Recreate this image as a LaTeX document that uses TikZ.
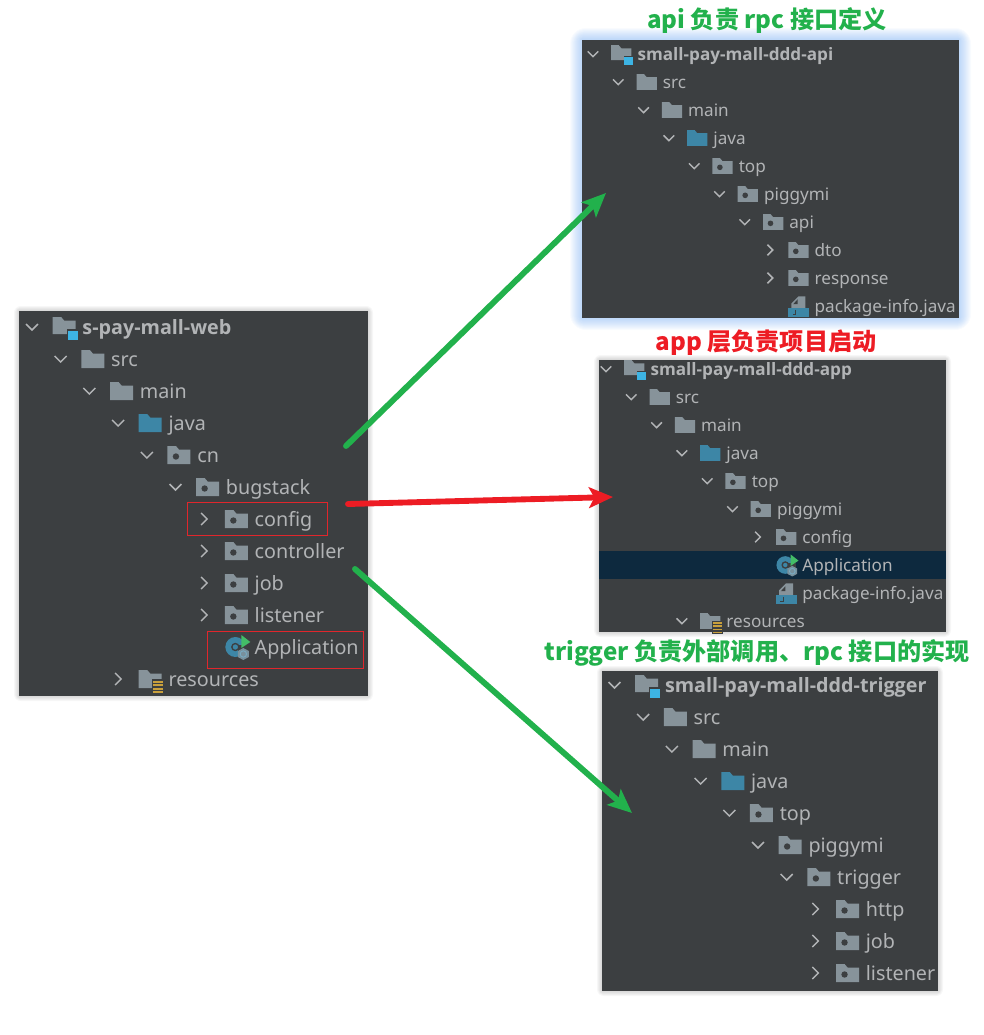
\documentclass[tikz,border=0pt]{standalone}
\usepackage{fontspec}
\setmainfont{Noto Sans}
\newfontfamily\rootfont{Open Sans}
\newfontfamily\cjk{Noto Sans CJK SC}
\usepackage{tikz}
\usetikzlibrary{arrows.meta,positioning}
\usepackage{xcolor}
\definecolor{panelbg}{HTML}{3C3F41}
\definecolor{rowgray}{HTML}{B2B4B6}
\definecolor{foldergray}{HTML}{87939A}
\definecolor{javablue}{HTML}{3D86A6}
\definecolor{modblue}{HTML}{3DB4E4}
\definecolor{resyellow}{HTML}{C9A03C}
\definecolor{runbar}{HTML}{0D293E}
\definecolor{flowgreen}{HTML}{22B14C}
\definecolor{flowred}{HTML}{ED1C24}
\definecolor{markred}{HTML}{E0262C}
\definecolor{glowblue}{HTML}{5A9BEF}
\tikzset{
  pics/chevo/.style={code={\draw[rowgray,line width=1.1pt] (-6,-3) -- (0,3) -- (6,-3);}},
  pics/chevc/.style={code={\draw[rowgray,line width=1.1pt] (-3,-6) -- (3,0) -- (-3,6);}},
  pics/chevn/.style={code={}},
  pics/plain/.style={code={\fill[foldergray] (-11.5,9) -- (-11.5,-9) -- (-3,-9) -- (0,-5.5) -- (11.5,-5.5) -- (11.5,9) -- cycle;}},
  pics/src/.style={code={\fill[javablue] (-11.5,9) -- (-11.5,-9) -- (-3,-9) -- (0,-5.5) -- (11.5,-5.5) -- (11.5,9) -- cycle;}},
  pics/pkg/.style={code={
    \fill[foldergray] (-11.5,9) -- (-11.5,-9) -- (-3,-9) -- (0,-5.5) -- (11.5,-5.5) -- (11.5,9) -- cycle;
    \fill[panelbg] (-3,1.5) circle (3.2);}},
  pics/root/.style={code={
    \fill[foldergray] (-11.5,7) -- (-11.5,-10) -- (-3,-10) -- (0,-6.5) -- (11.5,-6.5) -- (11.5,7) -- cycle;
    \fill[panelbg] (2.5,2) rectangle (15,14);
    \fill[modblue] (3.5,3.5) rectangle (13.5,13);}},
  pics/res/.style={code={
    \fill[foldergray] (-11.5,9) -- (-11.5,-9) -- (-3,-9) -- (0,-5.5) -- (11.5,-5.5) -- (11.5,9) -- cycle;
    \fill[panelbg] (2,0) rectangle (14,15);
    \foreach \st in {1.5,5,8.5,12}
      \fill[resyellow] (3,\st) rectangle (13,\st+2);}},
  pics/app/.style={code={
    \fill[javablue] (-1,0) circle (10);
    \draw[panelbg,line width=1pt] (-1,0) circle (3.5);
    \fill[panelbg] (2,-2) rectangle (11,11);
    \fill[flowgreen!85!white] (5,-12) -- (14,-5) -- (5,1) -- cycle;
    \fill[foldergray!80!javablue] (7,1) -- (12.5,4) -- (12.5,10) -- (7,13) -- (1.5,10) -- (1.5,4) -- cycle;
    \draw[javablue!70!white,line width=.7pt] (7,7) circle (3.2);}},
  pics/file/.style={code={
    \fill[foldergray] (-8,2) -- (-8,-3) -- (0,-11) -- (8,-11) -- (8,2) -- cycle;
    \fill[panelbg] (-6,-2) -- (-1,-7.5) -- (-1,-2) -- cycle;
    \fill[javablue] (-12,2) rectangle (12,12);
    \draw[panelbg,line width=.8pt] (-3,4) -- (-3,9.5) -- (-6.5,9.5);}},
  treepanel/.style={fill=panelbg,inner sep=0pt},
  rowtext/.style={anchor=base west,inner sep=0pt,text=rowgray},
  markbox/.style={draw=markred,line width=.75pt,inner sep=0pt},
  headline/.style={inner sep=0pt,font=\cjk\bfseries\fontsize{18.1pt}{22pt}\selectfont},
  flowarrow/.style={line width=4.4pt,line cap=round,-{Stealth[length=18pt,width=15.5pt,inset=4pt]}}
}
\newcommand{\panelglow}[7]{%
  \foreach \g in {1,...,#6}
    \fill[#5,opacity=#7,rounded corners=\g pt] (#1-\g,#2-\g) rectangle (#3+\g,#4+\g);}
\newcommand{\treerows}[7]{%
  \pgfmathsetmacro{\iconscale}{#4/28.7}
  \foreach \lvl/\rowlabel/\kind/\chev [count=\i] in {#7} {
    \pgfmathsetmacro{\chevx}{#2+\lvl*#4}
    \pgfmathsetmacro{\iconx}{\chevx+1.12*#4}
    \pgfmathsetmacro{\textx}{\chevx+1.75*#4}
    \pgfmathsetmacro{\rowy}{#3+(\i-1)*#5}
    \pgfmathsetmacro{\basey}{\rowy+.22*#5}
    \ifnum\i=1 \def\rowfont{\rootfont\bfseries}\else\def\rowfont{}\fi
    \pic[scale=\iconscale] at (\chevx,\rowy) {chev\chev};
    \pic[scale=\iconscale] at (\iconx,\rowy) {\kind};
    \node (#1\i) [rowtext] at (\textx,\basey) {\fontsize{#6pt}{#6pt}\selectfont\rowfont \rowlabel};
  }}
\begin{document}
\begin{tikzpicture}[x=.75pt,y=-.75pt]
  \useasboundingbox (0,0) rectangle (983,1035);

  \panelglow{582}{40}{959}{318}{glowblue}{12}{.04}
  \panelglow{19}{311}{368}{696}{black}{5}{.03}
  \panelglow{599}{360}{946}{632}{black}{5}{.03}
  \panelglow{602}{671}{938}{991}{black}{5}{.03}

  \node (webpanel) [treepanel,minimum width=261.75pt,minimum height=288.75pt] at (193.5,503.5) {};
  \node (apipanel) [treepanel,minimum width=282.75pt,minimum height=208.5pt] at (770.5,179) {};
  \node (apppanel) [treepanel,minimum width=260.25pt,minimum height=204pt] at (772.5,496) {};
  \node (trigpanel) [treepanel,minimum width=252pt,minimum height=240pt] at (770,831) {};
  \node (runrow) [fill=runbar,inner sep=0pt,minimum width=260.25pt,minimum height=21pt] at (772.5,565) {};

  \treerows{web}{32}{327}{28.7}{32}{14.8}{0/s-pay-mall-web/root/o,1/src/plain/o,2/main/plain/o,3/java/src/o,4/cn/pkg/o,5/bugstack/pkg/o,6/config/pkg/c,6/controller/pkg/c,6/job/pkg/c,6/listener/pkg/c,6/Application/app/n,3/resources/res/c}
  \treerows{api}{593}{54}{25.3}{28}{12.85}{0/small-pay-mall-ddd-api/root/o,1/src/plain/o,2/main/plain/o,3/java/src/o,4/top/pkg/o,5/piggymi/pkg/o,6/api/pkg/o,7/dto/pkg/c,7/response/pkg/c,7/package-info.java/file/n}
  \treerows{app}{606}{369}{25.3}{28}{12.85}{0/small-pay-mall-ddd-app/root/o,1/src/plain/o,2/main/plain/o,3/java/src/o,4/top/pkg/o,5/piggymi/pkg/o,6/config/pkg/c,6/Application/app/n,6/package-info.java/file/n,3/resources/res/o}
  \treerows{trig}{614.5}{685}{28.7}{32}{14.8}{0/small-pay-mall-ddd-trigger/root/o,1/src/plain/o,2/main/plain/o,3/java/src/o,4/top/pkg/o,5/piggymi/pkg/o,6/trigger/pkg/o,7/http/pkg/c,7/job/pkg/c,7/listener/pkg/c}

  \node (configmark) [markbox,minimum width=105pt,minimum height=24.75pt] at (257,518.5) {};
  \node (appmark) [markbox,minimum width=117pt,minimum height=27.75pt] at (285,649.5) {};

  \node (apihead) [headline,text=flowgreen] at (767,21) {api 负责 rpc 接口定义};
  \node (apphead) [headline,text=flowred] at (766,343) {app 层负责项目启动};
  \node (trighead) [headline,text=flowgreen] at (757,653) {trigger 负责外部调用、rpc 接口的实现};

  \coordinate (apifrom) at (346,446);
  \coordinate (apito) at (606,193);
  \coordinate (appfrom) at (348,504);
  \coordinate (appto) at (613,497);
  \coordinate (trigfrom) at (355,569);
  \coordinate (trigto) at (632,813);
  \draw[flowarrow,flowgreen] (apifrom) -- (apito);
  \draw[flowarrow,flowred] (appfrom) -- (appto);
  \draw[flowarrow,flowgreen] (trigfrom) -- (trigto);
\end{tikzpicture}
\end{document}
